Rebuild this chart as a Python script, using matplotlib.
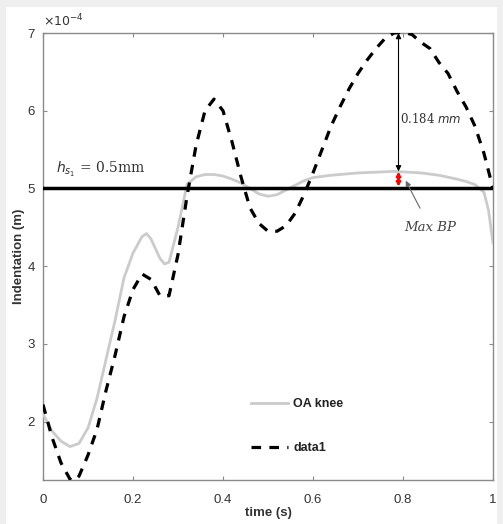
import matplotlib
matplotlib.use("Agg")
import matplotlib.pyplot as plt
from matplotlib.patches import Rectangle

# ---- data (indentation in units of 1e-4 m) ----
t_oa = [0.00, 0.02, 0.04, 0.06, 0.08, 0.10, 0.12, 0.14, 0.16, 0.18, 0.20, 0.22, 0.23,
        0.24, 0.26, 0.27, 0.28, 0.30, 0.32, 0.34, 0.36, 0.38, 0.40, 0.42, 0.44, 0.46,
        0.48, 0.50, 0.52, 0.54, 0.56, 0.58, 0.60, 0.64, 0.70, 0.78, 0.84, 0.88, 0.92,
        0.94, 0.96, 0.98, 0.99, 1.00]
oa_knee = [2.10, 1.88, 1.75, 1.68, 1.72, 1.92, 2.30, 2.80, 3.30, 3.85, 4.17, 4.38, 4.42,
           4.35, 4.10, 4.03, 4.05, 4.50, 5.05, 5.15, 5.18, 5.18, 5.16, 5.12, 5.07, 5.00,
           4.93, 4.90, 4.92, 4.98, 5.04, 5.10, 5.14, 5.17, 5.20, 5.22, 5.20, 5.17, 5.12,
           5.09, 5.05, 4.95, 4.72, 4.30]

t_d1 = [0.00, 0.02, 0.04, 0.06, 0.07, 0.08, 0.10, 0.12, 0.14, 0.16, 0.18, 0.20, 0.22,
        0.24, 0.26, 0.28, 0.30, 0.32, 0.34, 0.36, 0.38, 0.40, 0.42, 0.44, 0.46, 0.48,
        0.50, 0.52, 0.54, 0.56, 0.58, 0.60, 0.62, 0.64, 0.66, 0.68, 0.70, 0.72, 0.74,
        0.76, 0.78, 0.80, 0.82, 0.84, 0.86, 0.88, 0.90, 0.92, 0.94, 0.96, 0.98, 1.00]
data1 = [2.22, 1.80, 1.47, 1.26, 1.24, 1.30, 1.57, 1.90, 2.40, 2.85, 3.35, 3.70, 3.90,
         3.83, 3.62, 3.62, 4.15, 4.90, 5.55, 6.00, 6.15, 6.00, 5.60, 5.15, 4.75, 4.55,
         4.45, 4.45, 4.52, 4.68, 4.92, 5.20, 5.50, 5.80, 6.05, 6.28, 6.48, 6.65, 6.80,
         6.93, 7.00, 7.01, 6.98, 6.88, 6.80, 6.62, 6.48, 6.25, 6.05, 5.80, 5.45, 5.00]

threshold = 5.0
x_ticks = [0, 0.2, 0.4, 0.6, 0.8, 1]
x_tick_labels = ["0", "0.2", "0.4", "0.6", "0.8", "1"]
y_ticks = [2, 3, 4, 5, 6, 7]
y_tick_labels = ["2", "3", "4", "5", "6", "7"]
t_max = 0.79
max_top = 7.0
max_bp = 5.22

plt.rcParams['font.family'] = ['Liberation Sans', 'DejaVu Sans']

fig = plt.figure(figsize=(5.03, 5.24), dpi=100)
fig.patch.set_facecolor('#efefef')
fig.patches.append(Rectangle((6/503, 0), 491/503, 1 - 7/524, transform=fig.transFigure,
                             facecolor='white', edgecolor='none', zorder=-10))

ax = fig.add_axes([43/503, 1 - 480/524, 450/503, 447/524])
ax.set_facecolor('white')

ax.plot(t_oa, oa_knee, color='#cbcbcb', lw=2.0, label='OA knee', zorder=3)
ax.plot(t_d1, data1, color='black', lw=2.3, linestyle=(0, (3.0, 2.6)), label='data1', zorder=4)
ax.axhline(threshold, color='black', lw=2.5, zorder=5)

ax.set_xlim(0, 1)
ax.set_ylim(1.25, 7.0)
ax.set_xticks(x_ticks)
ax.set_xticklabels(x_tick_labels)
ax.set_yticks(y_ticks)
ax.set_yticklabels(y_tick_labels)

for s in ax.spines.values():
    s.set_color('#8a8a8a')
    s.set_linewidth(1.0)
ax.tick_params(direction='in', length=3, width=0.8, color='#8a8a8a',
               top=True, right=True, labelsize=9.5, labelcolor='#333333')
ax.tick_params(axis='x', pad=10)
ax.tick_params(axis='y', pad=6)

ax.set_xlabel('time (s)', fontsize=9.5, fontweight='bold', color='#333333', labelpad=1)
ax.set_ylabel('Indentation (m)', fontsize=9.5, fontweight='bold', color='#333333', labelpad=2)
ax.text(0.0, 1.008, r'$\times10^{-4}$', transform=ax.transAxes, fontsize=9,
        color='#333333', ha='left', va='bottom')

# annotations
ax.text(0.03, 5.12, r'$h_{s_1}$ = 0.5mm', fontsize=10, color='#333333',
        family=['DejaVu Serif'], ha='left', va='bottom')
ax.annotate('', xy=(t_max, max_top), xytext=(t_max, max_bp),
            arrowprops=dict(arrowstyle='<|-|>', color='black', lw=0.8,
                            mutation_scale=8, shrinkA=0, shrinkB=0), zorder=6)
ax.text(t_max + 0.003, 5.9, r'0.184 $mm$', fontsize=8.5, color='#333333',
        family=['DejaVu Serif'], ha='left', va='center')
ax.annotate('', xy=(t_max, 5.22), xytext=(t_max, 5.02),
            arrowprops=dict(arrowstyle='<|-|>', color='red', lw=2.0,
                            mutation_scale=5, shrinkA=0, shrinkB=0), zorder=7)
ax.annotate('Max BP', xy=(0.806, 5.1), xytext=(0.86, 4.5),
            fontsize=9.5, color='#444444', style='italic', family=['DejaVu Serif'],
            ha='center', va='center',
            arrowprops=dict(arrowstyle='-|>', color='#666666', lw=0.8,
                            mutation_scale=8, shrinkA=8, shrinkB=0), zorder=7)

leg = ax.legend(loc='lower left', bbox_to_anchor=(0.437, 0.032), frameon=False,
                fontsize=9, handlelength=3.0, handletextpad=0.4, labelspacing=2.6)
for txt in leg.get_texts():
    txt.set_fontweight('bold')
    txt.set_color('#222222')

fig.savefig('out.png', dpi=100, facecolor=fig.get_facecolor())
